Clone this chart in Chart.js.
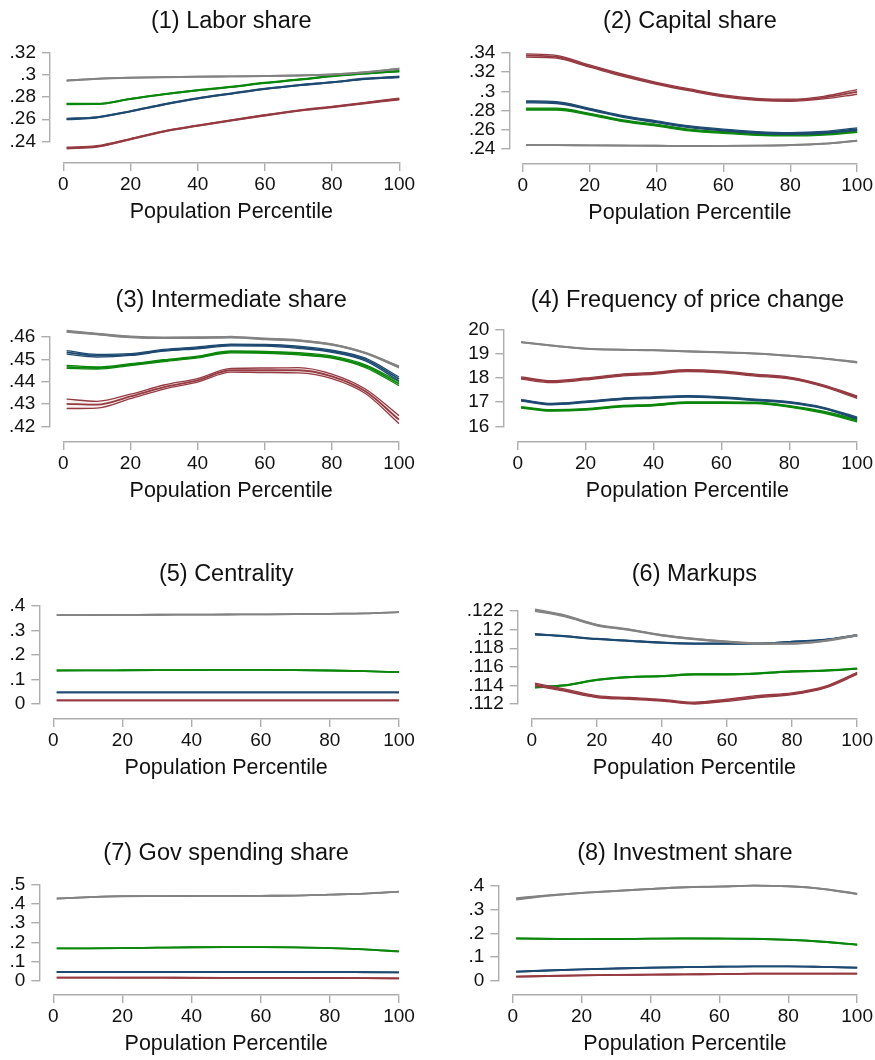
<!DOCTYPE html>
<html>
<head>
<meta charset="utf-8">
<title>Population percentile profiles</title>
<script src="https://cdn.jsdelivr.net/npm/chart.js@4.4.1/dist/chart.umd.min.js"></script>
<style>
  html, body { margin: 0; padding: 0; background: #ffffff; overflow: hidden; }
  #page { position: relative; width: 875px; height: 1060px; }
  #page canvas { position: absolute; }
</style>
</head>
<body>
<div id="page"></div>
<script>
// ---------- shared x grid ----------
const pct = [1, 10, 20, 30, 40, 50, 60, 70, 80, 90, 100];
const xTickValues = [0, 20, 40, 60, 80, 100];

// ---------- (1) Labor share ----------
const laborTicks = [0.24, 0.26, 0.28, 0.30, 0.32];
const laborTickLabels = ['.24', '.26', '.28', '.3', '.32'];
const laborGray = [0.2949, 0.2965, 0.2975, 0.2980, 0.2984, 0.2987, 0.2990, 0.2995, 0.3005, 0.3025, 0.3056];
const laborGrayCI = [0.0003, 0.0003, 0.0003, 0.0003, 0.0003, 0.0003, 0.0003, 0.0003, 0.0003, 0.0003, 0.0004];
const laborRed = [0.2340, 0.2355, 0.2421, 0.2491, 0.2542, 0.2590, 0.2636, 0.2678, 0.2711, 0.2747, 0.2783];
const laborRedCI = [0.0007, 0.0006, 0.0005, 0.0005, 0.0005, 0.0005, 0.0005, 0.0005, 0.0005, 0.0006, 0.0007];
const laborBlue = [0.2602, 0.2617, 0.2672, 0.2735, 0.2789, 0.2832, 0.2874, 0.2907, 0.2934, 0.2965, 0.2983];
const laborBlueCI = [0.0006, 0.0005, 0.0004, 0.0004, 0.0004, 0.0004, 0.0004, 0.0004, 0.0004, 0.0005, 0.0006];
const laborGreen = [0.2738, 0.2738, 0.2783, 0.2826, 0.2862, 0.2892, 0.2928, 0.2958, 0.2989, 0.3013, 0.3034];
const laborGreenCI = [0.0005, 0.0004, 0.0004, 0.0004, 0.0004, 0.0004, 0.0004, 0.0004, 0.0004, 0.0004, 0.0005];

// ---------- (2) Capital share ----------
const capitalTicks = [0.24, 0.26, 0.28, 0.30, 0.32, 0.34];
const capitalTickLabels = ['.24', '.26', '.28', '.3', '.32', '.34'];
const capitalGray = [0.2441, 0.2440, 0.2438, 0.2436, 0.2434, 0.2431, 0.2432, 0.2435, 0.2441, 0.2455, 0.2486];
const capitalGrayCI = [0.0003, 0.0003, 0.0003, 0.0003, 0.0003, 0.0003, 0.0003, 0.0003, 0.0003, 0.0003, 0.0004];
const capitalRed = [0.3372, 0.3359, 0.3262, 0.3166, 0.3083, 0.3014, 0.2952, 0.2917, 0.2907, 0.2934, 0.2993];
const capitalRedCI = [0.0017, 0.0015, 0.0012, 0.0011, 0.0010, 0.0010, 0.0010, 0.0010, 0.0011, 0.0014, 0.0024];
const capitalBlue = [0.2890, 0.2883, 0.2814, 0.2738, 0.2683, 0.2631, 0.2597, 0.2572, 0.2562, 0.2572, 0.2607];
const capitalBlueCI = [0.0010, 0.0010, 0.0009, 0.0009, 0.0009, 0.0009, 0.0009, 0.0009, 0.0009, 0.0010, 0.0012];
const capitalGreen = [0.2814, 0.2814, 0.2762, 0.2693, 0.2648, 0.2597, 0.2572, 0.2552, 0.2545, 0.2555, 0.2586];
const capitalGreenCI = [0.0010, 0.0010, 0.0009, 0.0009, 0.0009, 0.0009, 0.0009, 0.0009, 0.0009, 0.0010, 0.0012];

// ---------- (3) Intermediate share ----------
const interTicks = [0.42, 0.43, 0.44, 0.45, 0.46];
const interTickLabels = ['.42', '.43', '.44', '.45', '.46'];
const interGray = [0.4625, 0.4613, 0.4600, 0.4596, 0.4597, 0.4599, 0.4591, 0.4584, 0.4566, 0.4528, 0.4466];
const interGrayCI = [0.0004, 0.0003, 0.0003, 0.0003, 0.0003, 0.0003, 0.0003, 0.0003, 0.0003, 0.0003, 0.0004];
const interRed = [0.4301, 0.4297, 0.4334, 0.4376, 0.4406, 0.4451, 0.4451, 0.4451, 0.4424, 0.4357, 0.4230];
const interRedCI = [0.0021, 0.0015, 0.0010, 0.0009, 0.0008, 0.0008, 0.0010, 0.0012, 0.0010, 0.0010, 0.0018];
const interBlue = [0.4531, 0.4516, 0.4521, 0.4540, 0.4551, 0.4564, 0.4563, 0.4554, 0.4536, 0.4499, 0.4412];
const interBlueCI = [0.0008, 0.0006, 0.0004, 0.0004, 0.0004, 0.0004, 0.0004, 0.0005, 0.0005, 0.0006, 0.0009];
const interGreen = [0.4466, 0.4461, 0.4476, 0.4494, 0.4510, 0.4533, 0.4531, 0.4525, 0.4510, 0.4469, 0.4391];
const interGreenCI = [0.0007, 0.0005, 0.0004, 0.0004, 0.0004, 0.0004, 0.0004, 0.0005, 0.0005, 0.0006, 0.0009];

// ---------- (4) Frequency of price change ----------
const freqTicks = [16, 17, 18, 19, 20];
const freqTickLabels = ['16', '17', '18', '19', '20'];
const freqGray = [19.48, 19.34, 19.21, 19.17, 19.15, 19.10, 19.06, 19.01, 18.92, 18.81, 18.65];
const freqGrayCI = [0.015, 0.015, 0.015, 0.015, 0.015, 0.015, 0.015, 0.015, 0.015, 0.015, 0.02];
const freqRed = [18.00, 17.85, 17.96, 18.11, 18.19, 18.30, 18.25, 18.12, 18.00, 17.68, 17.21];
const freqRedCI = [0.05, 0.04, 0.04, 0.04, 0.04, 0.04, 0.04, 0.04, 0.04, 0.04, 0.05];
const freqBlue = [17.08, 16.92, 17.01, 17.13, 17.19, 17.24, 17.19, 17.10, 16.99, 16.76, 16.34];
const freqBlueCI = [0.03, 0.03, 0.03, 0.03, 0.03, 0.03, 0.03, 0.03, 0.03, 0.03, 0.04];
const freqGreen = [16.79, 16.66, 16.70, 16.83, 16.88, 16.98, 16.98, 16.97, 16.83, 16.59, 16.24];
const freqGreenCI = [0.03, 0.03, 0.03, 0.03, 0.03, 0.03, 0.03, 0.03, 0.03, 0.04, 0.05];

// ---------- (5) Centrality ----------
const centTicks = [0, 0.1, 0.2, 0.3, 0.4];
const centTickLabels = ['0', '.1', '.2', '.3', '.4'];
const centGray = [0.3629, 0.3632, 0.3638, 0.3645, 0.3650, 0.3656, 0.3662, 0.3670, 0.3684, 0.3700, 0.3753];
const centGrayCI = [0.001, 0.001, 0.001, 0.001, 0.001, 0.001, 0.001, 0.001, 0.001, 0.001, 0.001];
const centRed = [0.0137, 0.0137, 0.0137, 0.0137, 0.0137, 0.0137, 0.0137, 0.0137, 0.0137, 0.0137, 0.0137];
const centRedCI = [0.001, 0.001, 0.001, 0.001, 0.001, 0.001, 0.001, 0.001, 0.001, 0.001, 0.001];
const centBlue = [0.0467, 0.0467, 0.0467, 0.0467, 0.0467, 0.0467, 0.0467, 0.0467, 0.0467, 0.0467, 0.0467];
const centBlueCI = [0.001, 0.001, 0.001, 0.001, 0.001, 0.001, 0.001, 0.001, 0.001, 0.001, 0.001];
const centGreen = [0.1361, 0.1365, 0.1370, 0.1375, 0.1380, 0.1388, 0.1385, 0.1378, 0.1361, 0.1335, 0.1292];
const centGreenCI = [0.001, 0.001, 0.001, 0.001, 0.001, 0.001, 0.001, 0.001, 0.001, 0.001, 0.001];

// ---------- (6) Markups ----------
const markupTicks = [0.112, 0.114, 0.116, 0.118, 0.120, 0.122];
const markupTickLabels = ['.112', '.114', '.116', '.118', '.12', '.122'];
const markupGray = [0.1221, 0.1215, 0.1205, 0.1200, 0.1194, 0.1190, 0.1187, 0.1185, 0.1185, 0.1188, 0.1194];
const markupGrayCI = [0.00012, 0.0001, 0.00008, 0.00006, 0.00006, 0.00006, 0.00006, 0.00006, 0.00006, 0.00006, 0.00006];
const markupRed = [0.1141, 0.1135, 0.1128, 0.1126, 0.1124, 0.1121, 0.1124, 0.1128, 0.1131, 0.1138, 0.1153];
const markupRedCI = [0.00014, 0.00012, 0.0001, 0.0001, 0.0001, 0.0001, 0.00012, 0.00012, 0.0001, 0.0001, 0.00012];
const markupBlue = [0.1195, 0.1193, 0.1190, 0.1188, 0.1186, 0.1185, 0.1185, 0.1185, 0.1187, 0.1189, 0.1194];
const markupBlueCI = [0.00006, 0.00005, 0.00005, 0.00005, 0.00005, 0.00005, 0.00005, 0.00005, 0.00005, 0.00005, 0.00006];
const markupGreen = [0.1138, 0.1140, 0.1146, 0.1149, 0.1150, 0.1152, 0.1152, 0.1153, 0.1155, 0.1156, 0.1158];
const markupGreenCI = [0.00005, 0.00005, 0.00005, 0.00005, 0.00005, 0.00005, 0.00005, 0.00005, 0.00005, 0.00005, 0.00005];

// ---------- (7) Gov spending share ----------
const govTicks = [0, 0.1, 0.2, 0.3, 0.4, 0.5];
const govTickLabels = ['0', '.1', '.2', '.3', '.4', '.5'];
const govGray = [0.4276, 0.4345, 0.4397, 0.4405, 0.4410, 0.4414, 0.4420, 0.4431, 0.4483, 0.4534, 0.4638];
const govGrayCI = [0.0015, 0.0012, 0.0012, 0.0012, 0.0012, 0.0012, 0.0012, 0.0012, 0.0012, 0.0012, 0.0015];
const govRed = [0.0172, 0.0172, 0.0170, 0.0170, 0.0168, 0.0166, 0.0164, 0.0160, 0.0155, 0.0148, 0.0138];
const govRedCI = [0.0012, 0.0012, 0.0012, 0.0012, 0.0012, 0.0012, 0.0012, 0.0012, 0.0012, 0.0012, 0.0012];
const govBlue = [0.0466, 0.0466, 0.0466, 0.0466, 0.0467, 0.0467, 0.0466, 0.0465, 0.0460, 0.0455, 0.0448];
const govBlueCI = [0.0012, 0.0012, 0.0012, 0.0012, 0.0012, 0.0012, 0.0012, 0.0012, 0.0012, 0.0012, 0.0012];
const govGreen = [0.1690, 0.1695, 0.1707, 0.1730, 0.1750, 0.1759, 0.1755, 0.1740, 0.1707, 0.1638, 0.1534];
const govGreenCI = [0.0012, 0.0012, 0.0012, 0.0012, 0.0012, 0.0012, 0.0012, 0.0012, 0.0012, 0.0012, 0.0012];

// ---------- (8) Investment share ----------
const invTicks = [0, 0.1, 0.2, 0.3, 0.4];
const invTickLabels = ['0', '.1', '.2', '.3', '.4'];
const invGray = [0.3443, 0.3582, 0.3693, 0.3777, 0.3861, 0.3930, 0.3958, 0.4000, 0.3972, 0.3861, 0.3652];
const invGrayCI = [0.004, 0.002, 0.0015, 0.0015, 0.0015, 0.0015, 0.0015, 0.0015, 0.0015, 0.0015, 0.002];
const invRed = [0.0181, 0.0210, 0.0237, 0.0255, 0.0265, 0.0279, 0.0290, 0.0307, 0.0307, 0.0307, 0.0307];
const invRedCI = [0.0012, 0.0012, 0.0012, 0.0012, 0.0012, 0.0012, 0.0012, 0.0012, 0.0012, 0.0012, 0.0012];
const invBlue = [0.0390, 0.0440, 0.0488, 0.0525, 0.0557, 0.0580, 0.0599, 0.0613, 0.0613, 0.0590, 0.0557];
const invBlueCI = [0.0012, 0.0012, 0.0012, 0.0012, 0.0012, 0.0012, 0.0012, 0.0012, 0.0012, 0.0012, 0.0012];
const invGreen = [0.1784, 0.1770, 0.1756, 0.1760, 0.1775, 0.1784, 0.1780, 0.1770, 0.1728, 0.1645, 0.1520];
const invGreenCI = [0.0012, 0.0012, 0.0012, 0.0012, 0.0012, 0.0012, 0.0012, 0.0012, 0.0012, 0.0012, 0.0012];

// ---------- styling ----------
const COLORS = {
  gray:  { line: '#838383', fill: 'rgba(131,131,131,0.10)' },
  red:   { line: '#963a42', fill: 'rgba(150,58,66,0.08)' },
  blue:  { line: '#1e4a72', fill: 'rgba(30,74,114,0.08)' },
  green: { line: '#0b870b', fill: 'rgba(11,135,11,0.08)' }
};
const AXIS_COLOR = '#adadad';
const TEXT_COLOR = '#111111';
const FONT = "'Liberation Sans', Arial, Helvetica, sans-serif";
const TITLE_SIZE = 23.5;
const TICK_SIZE = 19;
const AXIS_TITLE_SIZE = 21.5;
const TICK_LEN = 8;

// Panel frames in page pixels: y-axis line x, x=0 / x=100 pixels,
// x-axis line y, pixels of the first and last y tick, title centre y.
const panels = [
  { title: '(1) Labor share', ticks: laborTicks, labels: laborTickLabels,
    series: [[laborGray, laborGrayCI, 'gray'], [laborRed, laborRedCI, 'red'], [laborBlue, laborBlueCI, 'blue'], [laborGreen, laborGreenCI, 'green']],
    frame: { col: 0, titleY: 21, axisX: 50, x0: 63.3, x100: 399.3, axisY: 163.3, tickBotPx: 141.7, tickTopPx: 52.7 } },
  { title: '(2) Capital share', ticks: capitalTicks, labels: capitalTickLabels,
    series: [[capitalGray, capitalGrayCI, 'gray'], [capitalRed, capitalRedCI, 'red'], [capitalBlue, capitalBlueCI, 'blue'], [capitalGreen, capitalGreenCI, 'green']],
    frame: { col: 1, titleY: 21, axisX: 509.3, x0: 522.7, x100: 857.7, axisY: 164, tickBotPx: 149, tickTopPx: 52.7 } },
  { title: '(3) Intermediate share', ticks: interTicks, labels: interTickLabels,
    series: [[interGray, interGrayCI, 'gray'], [interRed, interRedCI, 'red'], [interBlue, interBlueCI, 'blue'], [interGreen, interGreenCI, 'green']],
    frame: { col: 0, titleY: 300.5, axisX: 49.3, x0: 63.3, x100: 399, axisY: 442.3, tickBotPx: 426.7, tickTopPx: 337.3 } },
  { title: '(4) Frequency of price change', ticks: freqTicks, labels: freqTickLabels,
    series: [[freqGray, freqGrayCI, 'gray'], [freqRed, freqRedCI, 'red'], [freqBlue, freqBlueCI, 'blue'], [freqGreen, freqGreenCI, 'green']],
    frame: { col: 1, titleY: 300.5, axisX: 503.3, x0: 517.7, x100: 857.7, axisY: 442.3, tickBotPx: 426.7, tickTopPx: 330 } },
  { title: '(5) Centrality', ticks: centTicks, labels: centTickLabels,
    series: [[centGray, centGrayCI, 'gray'], [centRed, centRedCI, 'red'], [centBlue, centBlueCI, 'blue'], [centGreen, centGreenCI, 'green']],
    frame: { col: 0, titleY: 574, axisX: 39.3, x0: 53.3, x100: 399, axisY: 719.3, tickBotPx: 704, tickTopPx: 606 } },
  { title: '(6) Markups', ticks: markupTicks, labels: markupTickLabels,
    series: [[markupGray, markupGrayCI, 'gray'], [markupRed, markupRedCI, 'red'], [markupBlue, markupBlueCI, 'blue'], [markupGreen, markupGreenCI, 'green']],
    frame: { col: 1, titleY: 574, axisX: 517.7, x0: 531.7, x100: 857.7, axisY: 719.3, tickBotPx: 704.3, tickTopPx: 611 } },
  { title: '(7) Gov spending share', ticks: govTicks, labels: govTickLabels,
    series: [[govGray, govGrayCI, 'gray'], [govRed, govRedCI, 'red'], [govBlue, govBlueCI, 'blue'], [govGreen, govGreenCI, 'green']],
    frame: { col: 0, titleY: 853.5, axisX: 39.3, x0: 53.3, x100: 399, axisY: 995.7, tickBotPx: 981.7, tickTopPx: 885 } },
  { title: '(8) Investment share', ticks: invTicks, labels: invTickLabels,
    series: [[invGray, invGrayCI, 'gray'], [invRed, invRedCI, 'red'], [invBlue, invBlueCI, 'blue'], [invGreen, invGreenCI, 'green']],
    frame: { col: 1, titleY: 853.5, axisX: 498.3, x0: 512.7, x100: 857.7, axisY: 995.7, tickBotPx: 981.7, tickTopPx: 886 } }
];

const page = document.getElementById('page');

panels.forEach(p => {
  const f = p.frame;
  const canvasLeft = f.col ? 437 : 0;
  const canvasWidth = f.col ? 438 : 437;
  const titleLH = TITLE_SIZE * 1.2;
  const titlePadTop = 1;
  const canvasTop = f.titleY - titleLH / 2 - titlePadTop;
  // The plot region spans the labelled y range; curves may run past it.
  const titlePadBottom = f.tickTopPx - canvasTop - titlePadTop - titleLH;
  const axisBoxHeight = 64;
  const canvasHeight = f.axisY + axisBoxHeight - canvasTop;

  const canvas = document.createElement('canvas');
  canvas.width = canvasWidth;
  canvas.height = Math.round(canvasHeight);
  canvas.style.left = canvasLeft + 'px';
  canvas.style.top = canvasTop + 'px';
  canvas.style.width = canvasWidth + 'px';
  canvas.style.height = Math.round(canvasHeight) + 'px';
  page.appendChild(canvas);

  const datasets = [];
  p.series.forEach(([mean, ci, key]) => {
    const c = COLORS[key];
    const base = {
      xAxisID: 'x', yAxisID: 'y',
      borderColor: c.line, pointRadius: 0, pointHoverRadius: 0,
      cubicInterpolationMode: 'monotone', clip: false
    };
    datasets.push(Object.assign({}, base, {
      label: key + ' lower', borderWidth: 1.3,
      data: pct.map((x, i) => ({ x, y: mean[i] - ci[i] })), fill: false
    }));
    datasets.push(Object.assign({}, base, {
      label: key + ' upper', borderWidth: 1.3,
      data: pct.map((x, i) => ({ x, y: mean[i] + ci[i] })), fill: '-1', backgroundColor: c.fill
    }));
    datasets.push(Object.assign({}, base, {
      label: key, borderWidth: 1.8,
      data: pct.map((x, i) => ({ x, y: mean[i] })), fill: false
    }));
  });

  // Empty spacer axes push the drawn axes away from the plot region.
  const spacer = (size, horizontal) => ({
    type: 'linear', display: true, position: horizontal ? 'bottom' : 'left', weight: 0,
    grid: { display: false }, border: { display: false },
    ticks: { display: false },
    afterFit: s => { if (horizontal) s.height = size; else s.width = size; }
  });

  new Chart(canvas, {
    type: 'line',
    data: { datasets },
    options: {
      responsive: false,
      animation: false,
      devicePixelRatio: 1,
      events: [],
      layout: { padding: { left: 0, top: 0, bottom: 0, right: canvasLeft + canvasWidth - f.x100 } },
      plugins: {
        legend: { display: false },
        tooltip: { enabled: false },
        title: {
          display: true, text: p.title, fullSize: false, color: TEXT_COLOR,
          font: { family: FONT, size: TITLE_SIZE, weight: 'normal', lineHeight: 1.2 },
          padding: { top: titlePadTop, bottom: titlePadBottom }
        }
      },
      scales: {
        x: {
          type: 'linear', position: 'bottom', weight: 1, min: 0, max: 100,
          afterBuildTicks: s => { s.ticks = xTickValues.map(v => ({ value: v })); },
          afterFit: s => { s.height = axisBoxHeight; },
          grid: { display: true, drawOnChartArea: false, drawTicks: true, tickLength: TICK_LEN, color: AXIS_COLOR, lineWidth: 1.4 },
          border: { display: true, color: AXIS_COLOR, width: 1.4 },
          ticks: { color: TEXT_COLOR, padding: 2, maxRotation: 0, autoSkip: false,
                   font: { family: FONT, size: TICK_SIZE }, callback: v => String(v) },
          title: { display: true, text: 'Population Percentile', color: TEXT_COLOR,
                   font: { family: FONT, size: AXIS_TITLE_SIZE, lineHeight: 1.2 },
                   padding: { top: 0, bottom: 2.5 } }
        },
        y: {
          type: 'linear', position: 'left', weight: 1,
          min: p.ticks[0], max: p.ticks[p.ticks.length - 1],
          afterBuildTicks: s => { s.ticks = p.ticks.map(v => ({ value: v })); },
          afterFit: s => { s.width = f.axisX - canvasLeft; },
          grid: { display: true, drawOnChartArea: false, drawTicks: true, tickLength: TICK_LEN, color: AXIS_COLOR, lineWidth: 1.4 },
          border: { display: true, color: AXIS_COLOR, width: 1.4 },
          ticks: { color: TEXT_COLOR, padding: 6, autoSkip: false,
                   font: { family: FONT, size: TICK_SIZE },
                   callback: (v) => {
                     const i = p.ticks.findIndex(t => Math.abs(t - v) < 1e-9);
                     return i >= 0 ? p.labels[i] : '';
                   } }
        },
        xGap: spacer(f.axisY - f.tickBotPx, true),
        yGap: spacer(f.x0 - f.axisX, false)
      }
    }
  });
});
</script>
</body>
</html>
